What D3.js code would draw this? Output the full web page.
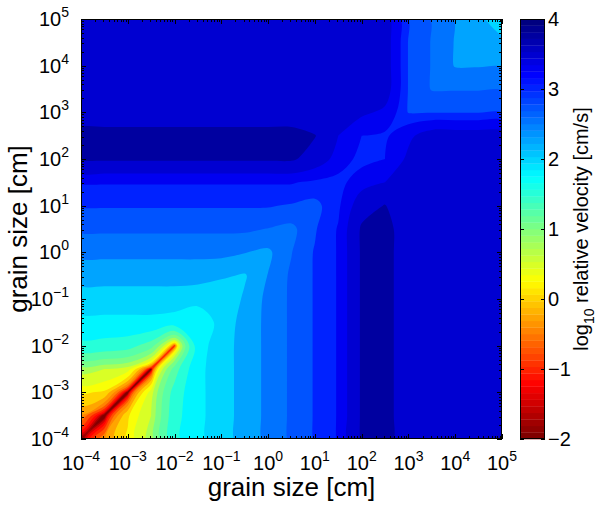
<!DOCTYPE html>
<html>
<head>
<meta charset="utf-8">
<script src="https://cdn.jsdelivr.net/npm/d3@7"></script>
<style>
  body { margin: 0; background: #fff; }
  svg { display: block; font-family: "Liberation Sans", Arial, Helvetica, sans-serif; }
</style>
</head>
<body>
<svg id="chart" width="600" height="506"></svg>
<script>
// grain sizes of the grid, log10 of cm, half a decade apart
const sizeExp = [-4, -3.5, -3, -2.5, -2, -1.5, -1, -0.5, 0, 0.5, 1, 1.5, 2, 2.5, 3, 3.5, 4, 4.5, 5];
const sizeTicks = [-4, -3, -2, -1, 0, 1, 2, 3, 4, 5];
const colorTicks = [-2, -1, 0, 1, 2, 3, 4];
// filled contour levels, log10 relative velocity
const levels = [-2, -1.75, -1.5, -1.25, -1, -0.75, -0.5, -0.25, 0, 0.25, 0.5, 0.75,
                1, 1.25, 1.5, 1.75, 2, 2.25, 2.5, 2.75, 3, 3.25, 3.5, 3.75];

// log10 relative velocity [cm/s].
// symmetric in the two sizes, so row b only holds partners 0..b
const velLower = [
  [-2.3],
  [-0.3, -2.3],
  [0.3, 0.2, -2.3],
  [0.85, 0.75, 0.6, -2.3],
  [1.68, 1.65, 1.6, 1.35, -1.0],
  [1.93, 1.93, 1.93, 1.93, 1.88, 1.8],
  [2.13, 2.13, 2.13, 2.13, 2.13, 2.08, 2.0],
  [2.34, 2.34, 2.34, 2.34, 2.34, 2.34, 2.29, 2.22],
  [2.56, 2.56, 2.56, 2.56, 2.56, 2.56, 2.56, 2.51, 2.44],
  [2.79, 2.79, 2.79, 2.79, 2.79, 2.79, 2.79, 2.79, 2.74, 2.67],
  [3.02, 3.02, 3.02, 3.02, 3.02, 3.02, 3.02, 3.02, 3.02, 2.97, 2.9],
  [3.27, 3.27, 3.27, 3.27, 3.27, 3.27, 3.27, 3.27, 3.27, 3.27, 3.2, 3.15],
  [3.78, 3.78, 3.78, 3.78, 3.78, 3.78, 3.78, 3.78, 3.78, 3.78, 3.65, 3.4, 3.15],
  [3.85, 3.85, 3.85, 3.85, 3.85, 3.85, 3.85, 3.85, 3.85, 3.85, 3.76, 3.5, 3.25, 3.2],
  [3.55, 3.55, 3.55, 3.55, 3.55, 3.55, 3.55, 3.55, 3.55, 3.55, 3.55, 3.55, 3.55, 3.45, 2.98],
  [3.58, 3.58, 3.58, 3.58, 3.58, 3.58, 3.58, 3.58, 3.58, 3.58, 3.58, 3.58, 3.58, 3.62, 2.98, 2.73],
  [3.58, 3.58, 3.58, 3.58, 3.58, 3.58, 3.58, 3.58, 3.58, 3.58, 3.58, 3.58, 3.58, 3.62, 2.98, 2.73, 2.48],
  [3.58, 3.58, 3.58, 3.58, 3.58, 3.58, 3.58, 3.58, 3.58, 3.58, 3.58, 3.58, 3.58, 3.62, 2.98, 2.73, 2.48, 2.3],
  [3.58, 3.58, 3.58, 3.58, 3.58, 3.58, 3.58, 3.58, 3.58, 3.58, 3.58, 3.58, 3.58, 3.62, 2.98, 2.73, 2.48, 2.3, 2.1]
];

// contour on sqrt(velocity) so the dip along the diagonal stays narrow
const warp = v => Math.pow(10, v / 2);

const n = sizeExp.length;
const grid = new Array(n * n);
for (let j = 0; j < n; j++) {
  for (let i = 0; i < n; i++) {
    grid[j * n + i] = warp(i >= j ? velLower[i][j] : velLower[j][i]);
  }
}

const plot = { left: 81, right: 502, top: 19, bottom: 439 };
const bar = { left: 520, right: 545 };

const x = d3.scaleLog().domain([1e-4, 1e5]).range([plot.left, plot.right]);
const y = d3.scaleLog().domain([1e-4, 1e5]).range([plot.bottom, plot.top]);
const cy = d3.scaleLinear().domain([-2, 4]).range([plot.bottom, plot.top]);

// matlab jet(64), flipped so -2 is dark red and 4 dark blue
const jet = d3.scaleLinear()
  .domain([0, 0.125, 0.375, 0.625, 0.875, 1])
  .range(["#000080", "#0000ff", "#00ffff", "#ffff00", "#ff0000", "#800000"])
  .interpolate(d3.interpolateRgb);
const cmap = d3.range(64).map(k => jet(1 - k / 63));
const color = v => cmap[Math.max(0, Math.min(63, Math.floor((v + 2) / 6 * 64 + 1e-9)))];

// contour geometry is in grid units, value i sits at i + 0.5
const step = sizeExp[1] - sizeExp[0];
const gx = c => x(Math.pow(10, sizeExp[0] + (c - 0.5) * step));
const gy = c => y(Math.pow(10, sizeExp[0] + (c - 0.5) * step));

// smooth the marching-squares rings a bit so the bands look like contourf
const ringLine = d3.line().curve(d3.curveCatmullRomClosed.alpha(0.5));
const contourPath = geom => geom.coordinates.map(poly =>
  poly.map(ring => ringLine(ring.slice(0, -1).map(p => [gx(p[0]), gy(p[1])]))).join("")
).join("");

const svg = d3.select("#chart");

svg.append("clipPath").attr("id", "clip")
  .append("rect")
  .attr("x", plot.left).attr("y", plot.top)
  .attr("width", plot.right - plot.left).attr("height", plot.bottom - plot.top);

const field = svg.append("g").attr("clip-path", "url(#clip)");
field.append("rect")
  .attr("x", plot.left).attr("y", plot.top)
  .attr("width", plot.right - plot.left).attr("height", plot.bottom - plot.top)
  .attr("fill", cmap[0]);

const contours = d3.contours().size([n, n]).thresholds(levels.map(warp))(grid);
field.selectAll("path")
  .data(contours)
  .join("path")
  .attr("d", contourPath)
  .attr("fill", (d, k) => color(levels[k]));

// axes box with inward ticks on all four sides
const axes = svg.append("g").attr("stroke", "#000").attr("fill", "none");
axes.append("rect")
  .attr("x", plot.left + 0.5).attr("y", plot.top + 0.5)
  .attr("width", plot.right - plot.left - 1).attr("height", plot.bottom - plot.top - 1)
  .attr("stroke-width", 1);

const major = sizeTicks.map(e => Math.pow(10, e));
const minor = [];
sizeTicks.slice(0, -1).forEach(e => {
  for (let k = 2; k <= 9; k++) minor.push(k * Math.pow(10, e));
});
const tickList = major.map(v => ({ v, len: 5 })).concat(minor.map(v => ({ v, len: 3 })));

tickList.forEach(t => {
  const px = Math.round(x(t.v)) + 0.5;
  const py = Math.round(y(t.v)) + 0.5;
  axes.append("line").attr("x1", px).attr("x2", px).attr("y1", plot.bottom).attr("y2", plot.bottom - t.len);
  axes.append("line").attr("x1", px).attr("x2", px).attr("y1", plot.top).attr("y2", plot.top + t.len);
  axes.append("line").attr("y1", py).attr("y2", py).attr("x1", plot.left).attr("x2", plot.left + t.len);
  axes.append("line").attr("y1", py).attr("y2", py).attr("x1", plot.right).attr("x2", plot.right - t.len);
});

const expText = e => (e < 0 ? "\u2212" + (-e) : String(e));

svg.append("g")
  .selectAll("text")
  .data(sizeTicks)
  .join("text")
  .attr("x", e => x(Math.pow(10, e)))
  .attr("y", plot.bottom + 31)
  .attr("text-anchor", "middle")
  .attr("font-size", 20)
  .text("10")
  .append("tspan")
  .attr("dy", -9)
  .attr("font-size", 14)
  .text(e => expText(e));

svg.append("g")
  .selectAll("text")
  .data(sizeTicks)
  .join("text")
  .attr("x", plot.left - 12)
  .attr("y", e => y(Math.pow(10, e)) + 7)
  .attr("text-anchor", "end")
  .attr("font-size", 20)
  .text("10")
  .append("tspan")
  .attr("dy", -9)
  .attr("font-size", 14)
  .text(e => expText(e));

svg.append("text")
  .attr("x", (plot.left + plot.right) / 2)
  .attr("y", 496)
  .attr("text-anchor", "middle")
  .attr("font-size", 26)
  .text("grain size [cm]");

svg.append("text")
  .attr("transform", `translate(27,${(plot.top + plot.bottom) / 2}) rotate(-90)`)
  .attr("text-anchor", "middle")
  .attr("font-size", 26)
  .text("grain size [cm]");

// colorbar
const barG = svg.append("g");
barG.selectAll("rect")
  .data(cmap)
  .join("rect")
  .attr("x", bar.left)
  .attr("width", bar.right - bar.left)
  .attr("y", (c, k) => cy(-2 + (k + 1) * 6 / 64))
  .attr("height", (c, k) => cy(-2 + k * 6 / 64) - cy(-2 + (k + 1) * 6 / 64) + 0.3)
  .attr("fill", c => c);

barG.append("rect")
  .attr("x", bar.left + 0.5).attr("y", plot.top + 0.5)
  .attr("width", bar.right - bar.left - 1).attr("height", plot.bottom - plot.top - 1)
  .attr("fill", "none").attr("stroke", "#000");

colorTicks.forEach(v => {
  const py = Math.round(cy(v)) + 0.5;
  barG.append("line").attr("x1", bar.left).attr("x2", bar.left + 4).attr("y1", py).attr("y2", py).attr("stroke", "#000");
  barG.append("line").attr("x1", bar.right).attr("x2", bar.right - 4).attr("y1", py).attr("y2", py).attr("stroke", "#000");
});

barG.selectAll("text")
  .data(colorTicks)
  .join("text")
  .attr("x", bar.right + 3)
  .attr("y", v => cy(v) + 7)
  .attr("font-size", 20)
  .text(v => (v < 0 ? "\u2212" + (-v) : String(v)));

const cLabel = svg.append("text")
  .attr("transform", `translate(588,${(plot.top + plot.bottom) / 2}) rotate(-90)`)
  .attr("text-anchor", "middle")
  .attr("font-size", 20);
cLabel.append("tspan").text("log");
cLabel.append("tspan").attr("dy", 6).attr("font-size", 14).text("10");
cLabel.append("tspan").attr("dy", -6).text(" relative velocity [cm/s]");
</script>
</body>
</html>
